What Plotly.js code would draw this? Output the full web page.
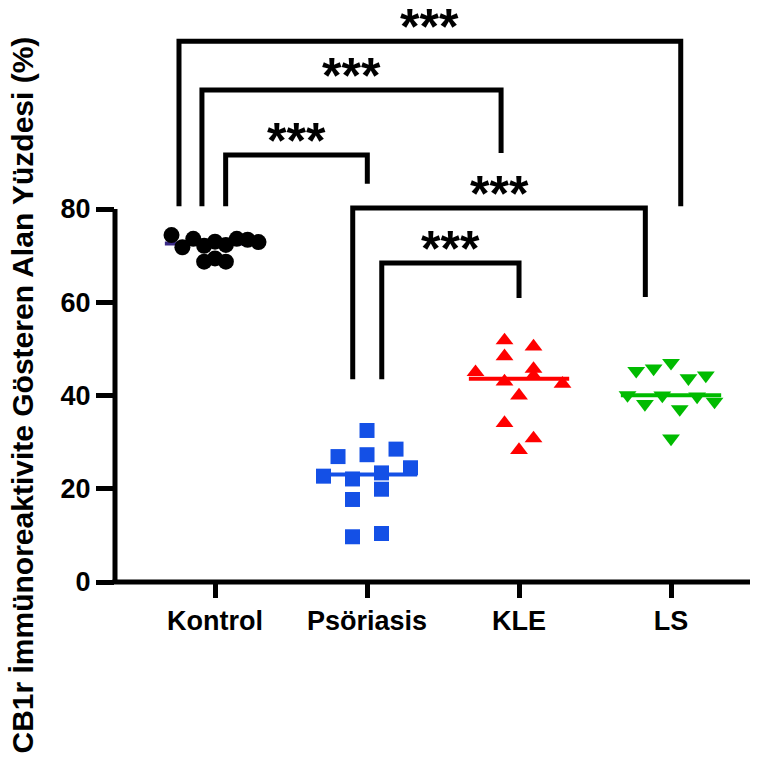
<!DOCTYPE html>
<html>
<head>
<meta charset="utf-8">
<script src="https://cdn.plot.ly/plotly-3.0.1.min.js"></script>
<style>html,body{margin:0;padding:0;background:#fff;}#chart{width:768px;height:764px;}</style>
</head>
<body>
<div id="chart"></div>
<script>
// ---- data ----
const categories = ['Kontrol', 'Psöriasis', 'KLE', 'LS'];
const kontrol   = [74.4, 71.8, 73.6, 72.1, 73.0, 72.3, 73.6, 73.4, 72.9, 68.7, 69.4, 68.7];
const psoriasis = [32.5, 26.9, 27.3, 28.5, 22.7, 22.1, 23.4, 24.5, 17.7, 19.9, 9.7, 10.4];
const kle       = [51.8, 50.5, 48.4, 45.7, 45.0, 43.0, 44.2, 42.5, 40.0, 34.1, 28.3, 30.8];
const ls        = [45.3, 45.8, 47.0, 43.7, 44.3, 40.1, 38.2, 40.0, 37.1, 39.8, 38.7, 30.8];
const yTickVals = [0, 20, 40, 60, 80];
const yTitle = 'CB1r İmmünoreaktivite Gösteren Alan Yüzdesi (%)';
// significance comparisons: [group A, group B, label]
const comparisons = [
  [0, 3, '***'],
  [0, 2, '***'],
  [0, 1, '***'],
  [1, 3, '***'],
  [1, 2, '***']
];

// ---- layout geometry / styles ----
const W = 768, H = 764;
const M = {l: 115, r: 18, t: 0, b: 182};
const plotW = W - M.l - M.r, plotH = H - M.t - M.b;
const xRange = [-0.658, -0.658 + plotW / 152];
const yRange = [0, plotH / 4.6625];
const pxX = plotW / (xRange[1] - xRange[0]);
const pxY = plotH / (yRange[1] - yRange[0]);
const FONT = 'Liberation Sans, Arial, Helvetica, sans-serif';

const groups = [
  {vals: kontrol,   symbol: 'circle',        size: 16,   color: '#000000', median: '#3a2a86'},
  {vals: psoriasis, symbol: 'square',        size: 15,   color: '#1450e6', median: '#1450e6'},
  {vals: kle,       symbol: 'triangle-up',   size: 15.5, color: '#ff0000', median: '#ff0000'},
  {vals: ls,        symbol: 'triangle-down', size: 15.5, color: '#00bb00', median: '#00bb00'}
];

// bracket geometry: horizontal level, leg ends, x nudges (category units)
const bracketStyle = [
  {y: 116.0, leg0: 80.6, leg1: 80.6, dx0: -0.237, dx1: 0.064},
  {y: 105.5, leg0: 80.6, leg1: 92.0, dx0: -0.086, dx1: -0.118},
  {y: 91.6,  leg0: 80.6, leg1: 85.4, dx0: 0.070,  dx1: 0.002},
  {y: 80.2,  leg0: 43.5, leg1: 61.1, dx0: -0.094, dx1: -0.169},
  {y: 68.4,  leg0: 43.5, leg1: 60.9, dx0: 0.097,  dx1: 0.0}
];

// swarm layout: rows of points that would overlap, spread symmetrically
function swarm(vals, sizePx) {
  const idx = vals.map((v, i) => i).sort((a, b) => vals[b] - vals[a] || a - b);
  const rows = [];
  let cur = null, start = null;
  idx.forEach(i => {
    if (cur && (start - vals[i]) * pxY < sizePx) { cur.push(i); }
    else { cur = [i]; start = vals[i]; rows.push(cur); }
  });
  const maxN = Math.max(...rows.map(r => r.length));
  const spacing = maxN > 1 ? Math.min(87 / (maxN - 1), sizePx * 2) : 0;
  const off = new Array(vals.length).fill(0);
  rows.forEach(r => {
    r.sort((a, b) => a - b);
    r.forEach((i, k) => { off[i] = (k - (r.length - 1) / 2) * spacing / pxX; });
  });
  return off;
}
function median(a) {
  const s = a.slice().sort((x, y) => x - y), n = s.length;
  return n % 2 ? s[(n - 1) / 2] : (s[n / 2 - 1] + s[n / 2]) / 2;
}

const traces = [];
groups.forEach((g, gi) => {
  const m = median(g.vals);
  traces.push({x: [gi - 0.33, gi + 0.33], y: [m, m], mode: 'lines', type: 'scatter',
    line: {color: g.median, width: 4}, hoverinfo: 'skip', showlegend: false});
});
groups.forEach((g, gi) => {
  const off = swarm(g.vals, g.size);
  traces.push({x: g.vals.map((v, i) => gi + off[i]), y: g.vals, mode: 'markers', type: 'scatter',
    marker: {symbol: g.symbol, size: g.size, color: g.color, line: {width: 0}},
    cliponaxis: false, showlegend: false, name: categories[gi]});
});

const shapes = [];
const annotations = [];
comparisons.forEach((c, k) => {
  const b = bracketStyle[k];
  const xa = c[0] + b.dx0, xb = c[1] + b.dx1;
  shapes.push({type: 'path', xref: 'x', yref: 'y',
    path: `M${xa},${b.leg0} L${xa},${b.y} L${xb},${b.y} L${xb},${b.leg1}`,
    line: {color: '#000', width: 5}, layer: 'above'});
  annotations.push({x: (xa + xb) / 2, y: b.y, xref: 'x', yref: 'y', text: c[2], showarrow: false,
    xanchor: 'center', yanchor: 'middle', yshift: 14,
    font: {family: FONT, size: 50, color: '#000', weight: 700}});
});
// axis lines
shapes.push({type: 'line', xref: 'paper', yref: 'paper', x0: 0, x1: 0, y0: 0, y1: 80 / yRange[1],
  line: {color: '#000', width: 5}});
shapes.push({type: 'line', xref: 'paper', yref: 'paper', x0: -2.5 / plotW, x1: 1, y0: 0, y1: 0,
  line: {color: '#000', width: 5}});
annotations.push({x: (22 - M.l) / plotW, y: 40, xref: 'paper', yref: 'y', text: yTitle,
  textangle: -90, showarrow: false, xanchor: 'center', yanchor: 'middle',
  font: {family: FONT, size: 30, color: '#000', weight: 700}});

const layout = {
  width: W, height: H, margin: M, paper_bgcolor: '#fff', plot_bgcolor: 'rgba(0,0,0,0)',
  showlegend: false,
  xaxis: {range: xRange, tickvals: [0, 1, 2, 3], ticktext: categories, showgrid: false, zeroline: false,
    showline: false, ticks: 'outside', ticklen: 15, tickwidth: 5, tickcolor: '#000',
    tickfont: {family: FONT, size: 27, color: '#000', weight: 700}},
  yaxis: {range: yRange, tickvals: yTickVals, showgrid: false, zeroline: false, showline: false,
    ticks: 'outside', ticklen: 18, tickwidth: 5, tickcolor: '#000',
    tickfont: {family: FONT, size: 27, color: '#000', weight: 700}},
  shapes: shapes, annotations: annotations
};
Plotly.newPlot('chart', traces, layout, {displayModeBar: false, staticPlot: true});
</script>
</body>
</html>
